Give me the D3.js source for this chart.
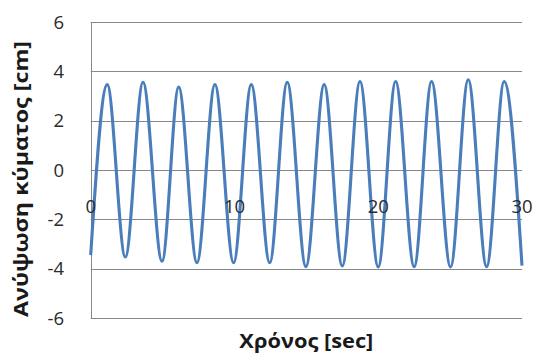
<!DOCTYPE html>
<html><head><meta charset="utf-8">
<script src="https://cdn.jsdelivr.net/npm/d3@7"></script>
<style>body{margin:0;background:#fff}svg{display:block}</style>
</head><body><svg id="c" width="539" height="360"></svg>
<script>
// extrema of the wave (time in sec, elevation in cm)
const times  = [0, 1.15, 2.41, 3.64, 4.96, 6.12, 7.39, 8.64, 9.94, 11.17, 12.45, 13.67, 14.97,
                16.24, 17.50, 18.73, 20.0, 21.21, 22.5, 23.71, 25.03, 26.26, 27.54, 28.76, 30];
const values = [-3.45, 3.46, -3.53, 3.56, -3.70, 3.36, -3.76, 3.46, -3.76, 3.46, -3.76, 3.56, -3.92,
                3.46, -3.89, 3.59, -3.93, 3.59, -3.92, 3.59, -3.93, 3.66, -3.92, 3.59, -3.88];
const xTicks = [0, 10, 20, 30];
const yTicks = [-6, -4, -2, 0, 2, 4, 6];
const xTitle = "Χρόνος [sec]";
const yTitle = "Ανύψωση κύματος [cm]";

const svg = d3.select("#c");
const m = {l: 90.7, r: 17, t: 22, b: 42};
const W = 539, H = 360;
const x = d3.scaleLinear().domain([0, 30]).range([m.l, W - m.r]);
const y = d3.scaleLinear().domain([-6, 6]).range([H - m.b, m.t]);
const font = "'Open Sans', 'DejaVu Sans', sans-serif";

// horizontal gridlines
svg.append("g").selectAll("line").data(yTicks).join("line")
  .attr("x1", x(0)).attr("x2", x(30))
  .attr("y1", d => Math.round(y(d)) + 0.5).attr("y2", d => Math.round(y(d)) + 0.5)
  .attr("stroke", "#888").attr("stroke-width", 1);
// vertical axis line
svg.append("line").attr("x1", Math.round(x(0)) + 0.5).attr("x2", Math.round(x(0)) + 0.5)
  .attr("y1", y(6)).attr("y2", y(-6)).attr("stroke", "#888");

// y tick labels
svg.append("g").selectAll("text").data(yTicks).join("text")
  .attr("x", 64).attr("y", d => y(d)).attr("dy", "0.36em")
  .attr("text-anchor", "end").attr("font-family", font).attr("font-size", 18.5)
  .attr("fill", "#2b2b2b").text(d => d);

// wave
const line = d3.line().x((d, i) => x(times[i])).y(d => y(d)).curve(d3.curveMonotoneX);
svg.append("path").attr("d", line(values)).attr("fill", "none")
  .attr("stroke", "#4a7ebb").attr("stroke-width", 3.1).attr("stroke-linejoin", "round");

// x tick labels (at the y=0 axis)
svg.append("g").selectAll("text").data(xTicks).join("text")
  .attr("x", d => x(d)).attr("y", y(0) + 42.5)
  .attr("text-anchor", "middle").attr("font-family", font).attr("font-size", 18.5)
  .attr("fill", "#2b2b2b").text(d => d);

// titles
svg.append("text").attr("x", (x(0) + x(30)) / 2).attr("y", 348)
  .attr("text-anchor", "middle").attr("font-family", font).attr("font-weight", "bold")
  .attr("font-size", 19).attr("textLength", 134).attr("lengthAdjust", "spacingAndGlyphs")
  .attr("fill", "#1a1a1a").text(xTitle);
svg.append("text").attr("transform", `translate(28,179) rotate(-90)`)
  .attr("text-anchor", "middle").attr("font-family", font).attr("font-weight", "bold")
  .attr("font-size", 19.5).attr("textLength", 276).attr("lengthAdjust", "spacingAndGlyphs")
  .attr("fill", "#1a1a1a").text(yTitle);
</script></body></html>
